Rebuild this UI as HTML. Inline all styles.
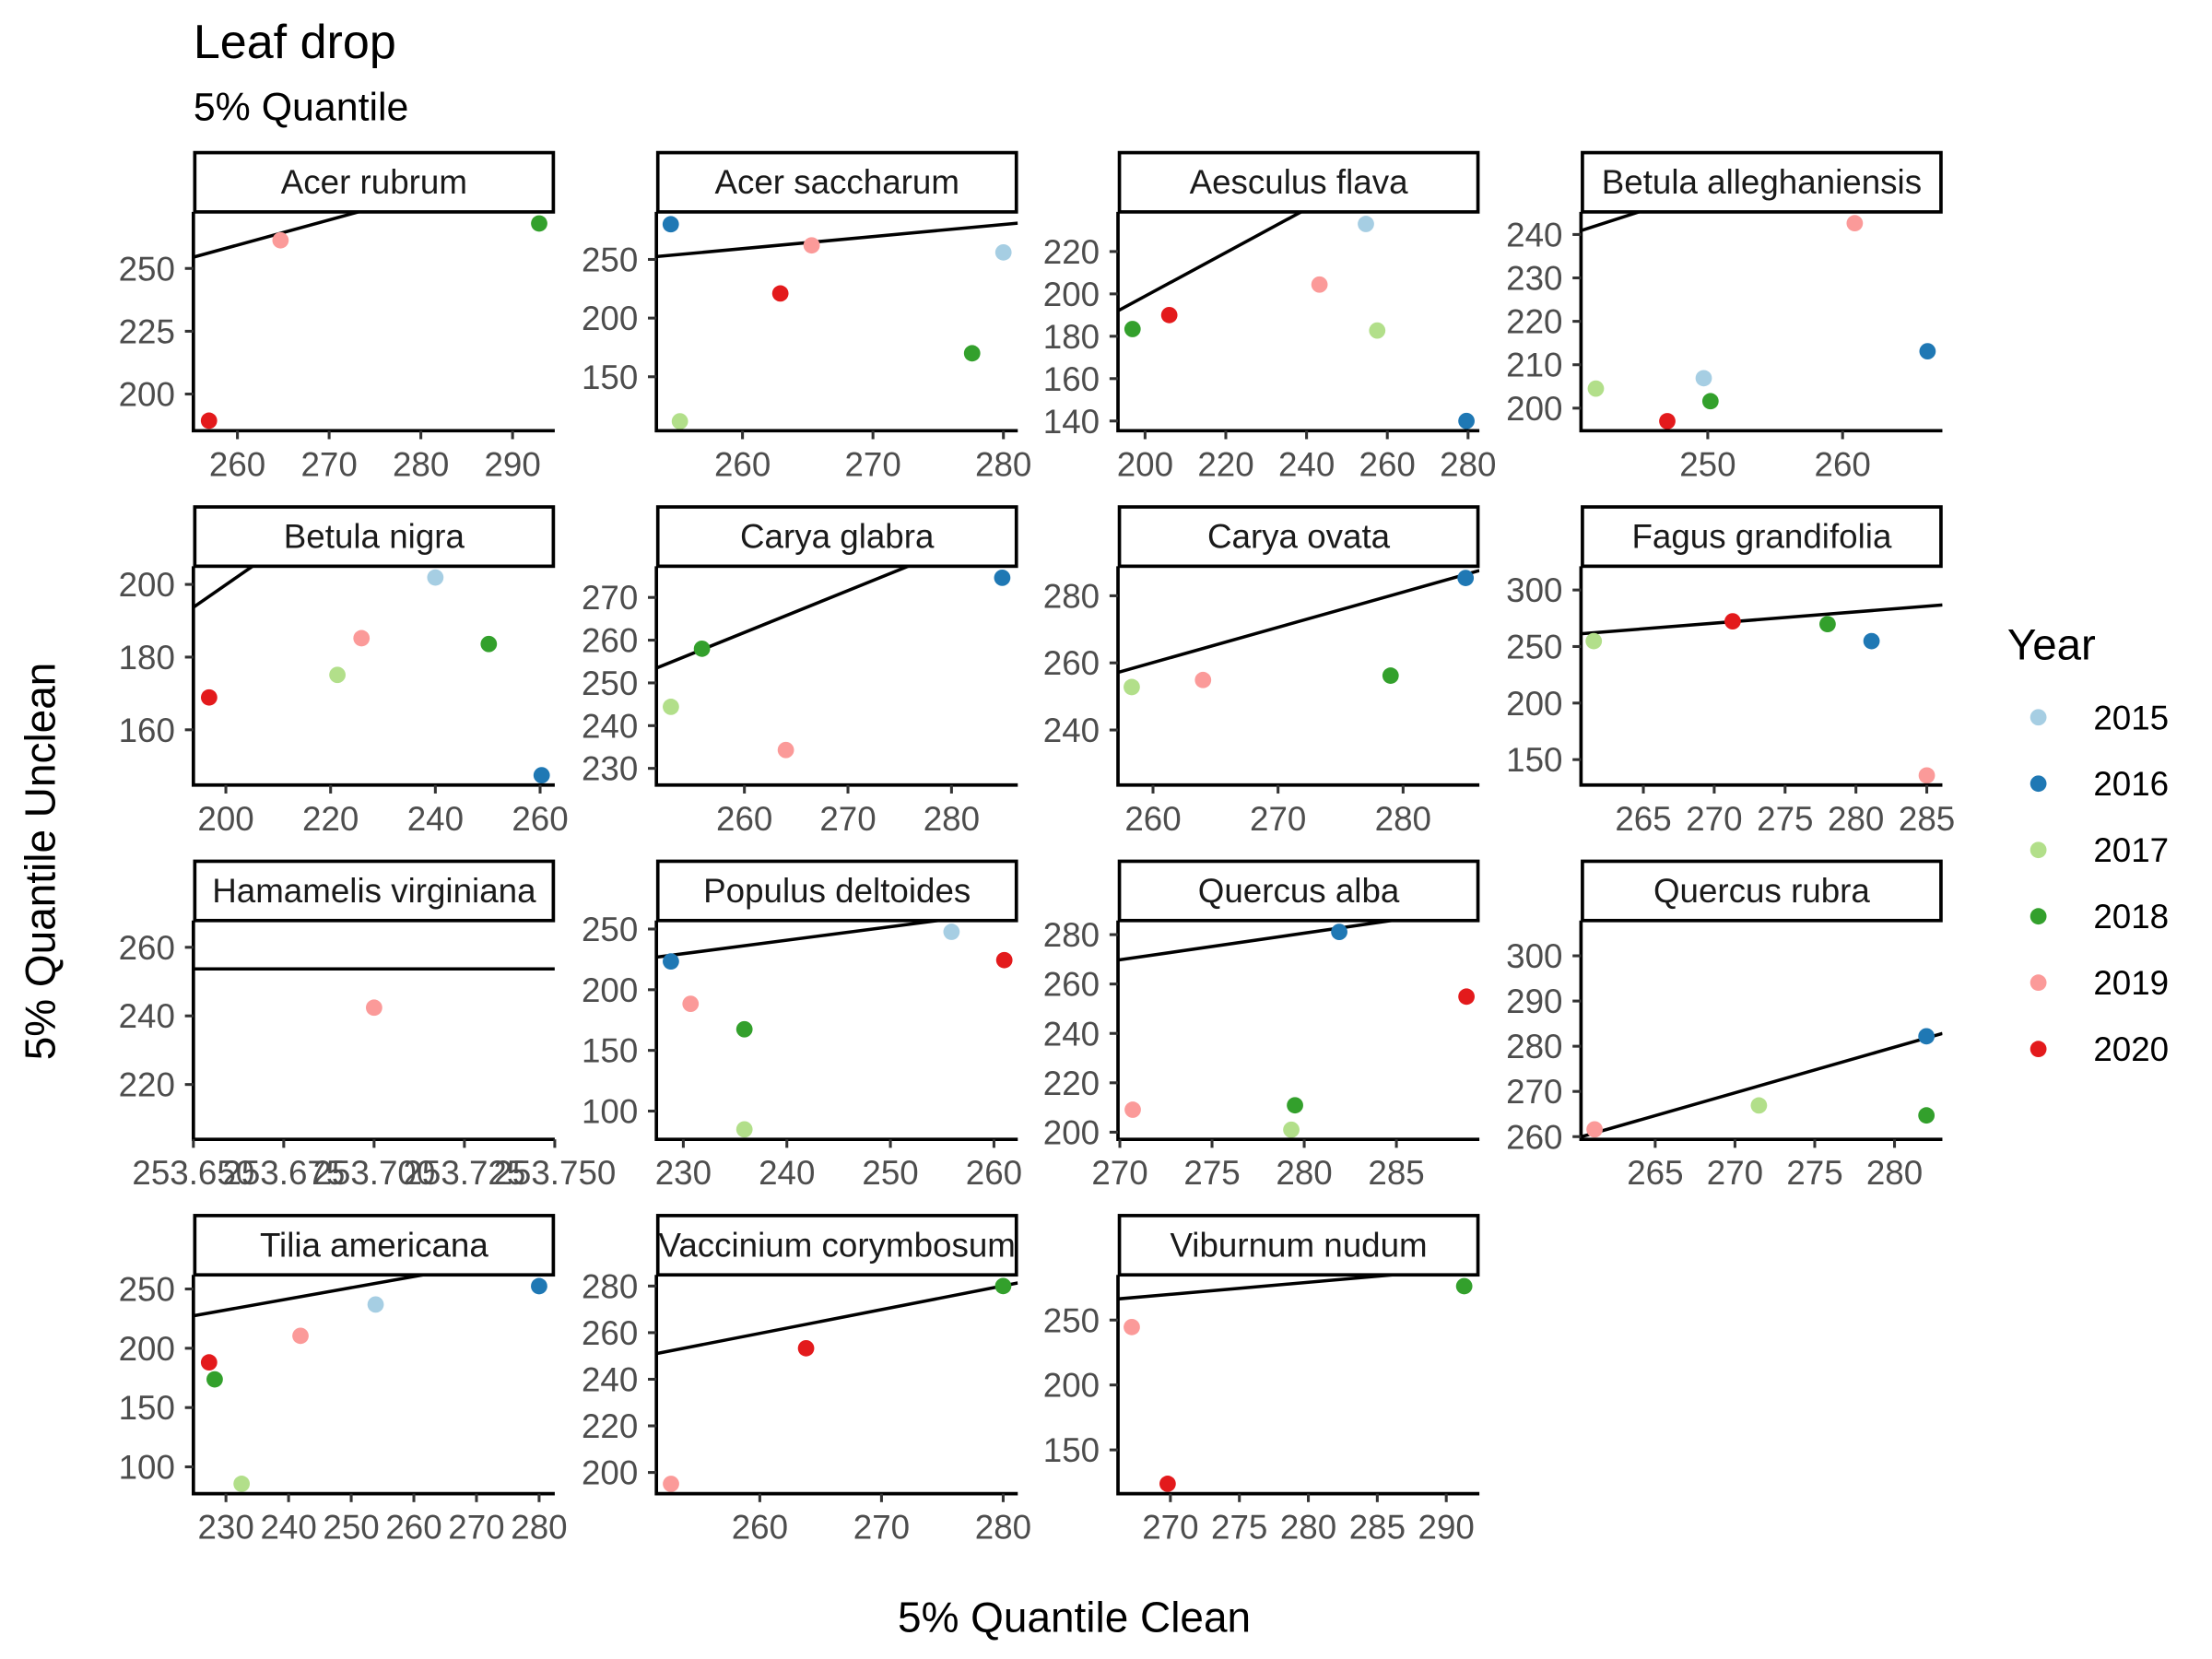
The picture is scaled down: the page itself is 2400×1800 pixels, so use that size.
<!DOCTYPE html>
<html><head><meta charset="utf-8"><title>Leaf drop</title>
<style>html,body{margin:0;padding:0;background:#fff}svg{display:block}text{font-family:"Liberation Sans",Arial,sans-serif}</style>
</head><body>
<svg id="chart" width="2400" height="1800" viewBox="0 0 1567 1175" xmlns="http://www.w3.org/2000/svg">
<rect x="0" y="0" width="1567" height="1175" fill="#fff"/>
<text x="137" y="41" font-size="34">Leaf drop</text>
<text x="137" y="85" font-size="28">5% Quantile</text>
<text x="761" y="1156" font-size="30" text-anchor="middle">5% Quantile Clean</text>
<text x="0" y="0" font-size="30" text-anchor="middle" transform="translate(39,610) rotate(-90)">5% Quantile Unclean</text>
<g id="panels"></g>
<g id="legend">
<text x="1422" y="467" font-size="31">Year</text>
</g>
</svg>
<script>
const panelNames = ["Acer rubrum","Acer saccharum","Aesculus flava","Betula alleghaniensis","Betula nigra","Carya glabra","Carya ovata","Fagus grandifolia","Hamamelis virginiana","Populus deltoides","Quercus alba","Quercus rubra","Tilia americana","Vaccinium corymbosum","Viburnum nudum"];
const xValues = [
 [256.9,264.7,292.9],
 [254.5,255.2,262.9,265.3,277.6,280.0],
 [196.9,206.0,243.2,254.7,257.5,279.6],
 [241.7,247.0,249.7,250.2,260.9,266.3],
 [196.8,221.3,225.9,240.0,250.2,260.3],
 [252.9,255.9,264.0,284.9],
 [258.3,264.0,279.0,285.0],
 [261.5,271.3,278.0,281.1,285.0],
 [253.7],
 [228.8,230.7,235.9,235.9,255.9,261.0],
 [270.7,279.3,279.5,281.9,288.8],
 [261.2,271.5,282.0,282.0],
 [227.3,228.2,232.5,241.9,253.9,280.0],
 [252.7,263.8,280.0],
 [267.2,269.8,291.3]
];
const yValues = [
 [189.4,261.2,267.9],
 [280,112,221,262,170,256],
 [183.4,190,204.4,233,182.7,140],
 [204.5,197,206.9,201.6,242.6,213.1],
 [168.9,175.1,185.2,201.9,183.6,147.5],
 [244.4,258,234.3,274.6],
 [252.8,254.9,256.2,285.3],
 [254.8,272.3,269.8,254.8,136],
 [242.4],
 [223.3,188.4,167.4,84.9,247.7,224.4],
 [209.1,201,210.9,281.1,254.9],
 [261.6,266.9,282.2,264.7],
 [188.1,173.8,85.7,210.5,236.9,252.4],
 [195.1,253.3,280],
 [244.6,123.9,276.1]
];
const years = [
 [2020,2019,2018],
 [2016,2017,2020,2019,2018,2015],
 [2018,2020,2019,2015,2017,2016],
 [2017,2020,2015,2018,2019,2016],
 [2020,2017,2019,2015,2018,2016],
 [2017,2018,2019,2016],
 [2017,2019,2018,2016],
 [2017,2020,2018,2016,2019],
 [2019],
 [2016,2019,2018,2017,2015,2020],
 [2019,2017,2018,2016,2020],
 [2019,2017,2016,2018],
 [2020,2018,2017,2019,2015,2016],
 [2019,2020,2018],
 [2019,2020,2018]
];
const xLims = [[255.2,294.6],[253.4,281.1],[193.3,282.8],[240.6,267.4],[193.8,262.8],[251.5,286.4],[257.2,286.1],[260.6,286.1],[253.65,253.75],[227.4,262.3],[269.9,289.5],[260.35,283.0],[224.8,282.5],[251.5,281.2],[266.2,292.4]];
const yLims = [[185.4,272.5],[104,290.5],[135.4,238.7],[194.8,245.2],[144.8,205],[226.1,277.3],[223.6,288.8],[127.5,321],[204,267.8],[76.7,257],[197.1,285.7],[259.4,307.8],[77.4,261.9],[190.9,284.8],[116.3,284.8]];
const xTicks = [[260,270,280,290],[260,270,280],[200,220,240,260,280],[250,260],[200,220,240,260],[260,270,280],[260,270,280],[265,270,275,280,285],[253.65,253.675,253.7,253.725,253.75],[230,240,250,260],[270,275,280,285],[265,270,275,280],[230,240,250,260,270,280],[260,270,280],[270,275,280,285,290]];
const yTicks = [[200,225,250],[150,200,250],[140,160,180,200,220],[200,210,220,230,240],[160,180,200],[230,240,250,260,270],[240,260,280],[150,200,250,300],[220,240,260],[100,150,200,250],[200,220,240,260,280],[260,270,280,290,300],[100,150,200,250],[200,220,240,260,280],[150,200,250]];
const fitIntercept = [-0.7,-8.6,-7.1,0.3,-0.1,7.0,-12.9,0.65,253.7,-25.6,-21.8,-3,16.1,-5.5,18.7];
const fitSlope = [1.0,1.03,1.03,1.0,1.0,0.98,1.05,1.0,0,1.11,1.08,1.01,0.94,1.02,0.93];
const legendYears = [2015,2016,2017,2018,2019,2020];
const yearColors = {2015:"#A6CEE3",2016:"#1F78B4",2017:"#B2DF8A",2018:"#33A02C",2019:"#FB9A99",2020:"#E31A1C"};

const NS = "http://www.w3.org/2000/svg";
const colX = [137,465,792,1120], rowTop = [107,358,609,860];
const PW = 256, SH = 43, PH = 155;
function mk(tag, attrs, parent){ const e=document.createElementNS(NS,tag); for(const k in attrs) e.setAttribute(k,attrs[k]); parent.appendChild(e); return e; }
const root = document.getElementById("panels");
const defs = mk("defs",{},root);
panelNames.forEach((name,i)=>{
  const c=i%4, r=Math.floor(i/4);
  const L=colX[c], T=rowTop[r]+SH, B=T+PH, R=L+PW;
  const sx=v=>L+(v-xLims[i][0])/(xLims[i][1]-xLims[i][0])*PW;
  const sy=v=>B-(v-yLims[i][0])/(yLims[i][1]-yLims[i][0])*PH;
  const g=mk("g",{},root);
  
  
  const cp=mk("clipPath",{id:"cp"+i},defs);
  mk("rect",{x:L,y:T,width:PW,height:PH},cp);
  const x0=xLims[i][0], x1=xLims[i][1];
  const ln=mk("line",{x1:sx(x0),y1:sy(fitIntercept[i]+fitSlope[i]*x0),x2:sx(x1),y2:sy(fitIntercept[i]+fitSlope[i]*x1),stroke:"#000","stroke-width":2.3,"clip-path":"url(#cp"+i+")"},g);
  
  
  xValues[i].forEach((xv,j)=>{
    const p=mk("circle",{cx:sx(xv),cy:sy(yValues[i][j]),r:5.8,fill:yearColors[years[i][j]]},g);
    
    
  });
  const ax=mk("path",{d:`M${L},${T} V${B} H${R}`,stroke:"#000","stroke-width":2.4,fill:"none"},g);
  
  
  xTicks[i].forEach(t=>{
    const x=sx(t);
    mk("line",{x1:x,y1:B,x2:x,y2:B+6,stroke:"#333","stroke-width":2},g);
    const lb=mk("text",{x:x,y:B+32,"font-size":24,fill:"#4D4D4D","text-anchor":"middle"},g);
    lb.textContent = (i===8)? t.toFixed(3) : String(t);
    
    
  });
  yTicks[i].forEach(t=>{
    const y=sy(t);
    mk("line",{x1:L-6,y1:y,x2:L,y2:y,stroke:"#333","stroke-width":2},g);
    const lb=mk("text",{x:L-13,y:y+8.5,"font-size":24,fill:"#4D4D4D","text-anchor":"end"},g);
    lb.textContent=String(t);
    
    
  });
  const st=mk("rect",{x:L+1,y:rowTop[r]+1,width:PW-2,height:SH-1,fill:"#fff",stroke:"#000","stroke-width":2.4},g);
  
  
  const stt=mk("text",{x:L+PW/2,y:rowTop[r]+30,"font-size":24,"text-anchor":"middle",fill:"#1A1A1A"},g);
  stt.textContent=name;
  
  
});
const leg=document.getElementById("legend");
legendYears.forEach((yr,k)=>{
  const y=508+k*47;
  const d=mk("circle",{cx:1444,cy:y,r:5.8,fill:yearColors[yr]},leg);
  
  
  const t=mk("text",{x:1483,y:y+8.5,"font-size":24},leg);
  t.textContent=String(yr);
  
  
});
</script>
</body></html>
